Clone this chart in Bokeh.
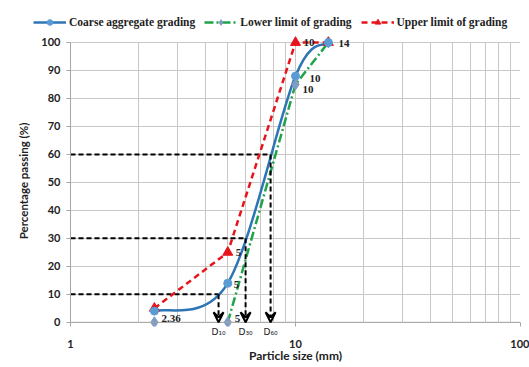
import numpy as np
from bokeh.plotting import figure
from bokeh.layouts import column
from bokeh.models import (FixedTicker, Legend, LegendItem, Arrow, VeeHead, Label,
                          LogAxis, Span, Grid)
from bokeh.embed import file_html
from bokeh.resources import INLINE

# ---- data ----
sieve_sizes = [2.36, 5, 10, 14]
coarse_grading = [4, 14, 88, 100]
lower_limit = [0, 0, 85, 100]
upper_limit = [5, 25, 100, 100]

series_names = ["Coarse aggregate grading", "Lower limit of grading", "Upper limit of grading"]

d_names = ["D\u2081\u2080", "D\u2083\u2080", "D\u2086\u2080"]
d_levels = [10, 30, 60]
d_sizes = [4.55, 6.0, 7.75]

y_ticks = list(range(0, 101, 10))
x_ticks = [1, 10, 100]
x_minor = [2, 3, 4, 5, 6, 7, 8, 9, 20, 30, 40, 50, 60, 70, 80, 90]

# point labels
pt_label_x = [10, 14, 10, 10, 5, 5, 5, 2.36]
pt_label_y = [100, 100, 88, 85, 25, 14, 0, 0]
pt_label_text = ["10", "14", "10", "10", "5", "5", "5", "2.36"]
pt_label_dx = [8, 10, 14, 7, 8, 6, 7, 7]
pt_label_dy = [0, -1, -2, -5, 0, -1, 4, 4]

FW = 450
PX_PER_PCT = 2.8
Y0, Y1 = -1.5, 102.5
FH = int(round((Y1 - Y0) * PX_PER_PCT))

BLUE = "#2e75b6"
GREEN = "#1fa34a"
RED = "#e8141c"
DIAM = "#7f9cc4"
CIRC = "#5b9bd5"
AX = "#a6a6a6"
TXT = "#222222"

p = figure(width=529, height=5 + FH + 41, x_axis_type="log", x_axis_location=None,
           y_range=(Y0, Y1), x_range=(1, 100),
           output_backend="svg", toolbar_location=None,
           min_border_left=70, min_border_right=9, min_border_top=5, min_border_bottom=41)
p.background_fill_color = "white"
p.border_fill_color = "white"
p.outline_line_color = None
p.frame_align = False

# D axis (directly below frame): D labels + small ticks at 1, 10, 100
d_axis = LogAxis(ticker=FixedTicker(ticks=d_sizes, minor_ticks=x_ticks))
d_axis.major_label_overrides = {d: n for d, n in zip(d_sizes, d_names)}
d_axis.axis_line_color = None
d_axis.major_tick_line_color = None
d_axis.major_tick_in = 0
d_axis.major_tick_out = 0
d_axis.minor_tick_line_color = AX
d_axis.minor_tick_in = 4
d_axis.minor_tick_out = 0
d_axis.major_label_standoff = 0
d_axis.major_label_text_font = "DejaVu Sans"
d_axis.major_label_text_font_size = "9px"
d_axis.major_label_text_color = TXT
p.add_layout(d_axis, "below")

# main x axis (labels only)
x_axis = LogAxis(ticker=FixedTicker(ticks=x_ticks, minor_ticks=x_minor))
x_axis.major_label_overrides = {1: "1", 10: "10", 100: "100"}
x_axis.axis_line_color = None
x_axis.major_tick_line_color = None
x_axis.minor_tick_line_color = None
x_axis.major_tick_in = 0
x_axis.major_tick_out = 0
x_axis.major_label_standoff = -4
x_axis.major_label_text_font = "Lato"
x_axis.major_label_text_font_style = "bold"
x_axis.major_label_text_font_size = "11px"
x_axis.major_label_text_color = TXT
x_axis.axis_label = "Particle size (mm)"
x_axis.axis_label_standoff = -3
x_axis.axis_label_text_font = "Lato"
x_axis.axis_label_text_font_style = "bold"
x_axis.axis_label_text_font_size = "12px"
x_axis.axis_label_text_color = TXT
p.add_layout(x_axis, "below")

# y axis
p.yaxis.ticker = FixedTicker(ticks=y_ticks)
p.yaxis.bounds = (0, 100)
p.yaxis.axis_line_color = AX
p.yaxis.major_tick_line_color = AX
p.yaxis.minor_tick_line_color = None
p.yaxis.major_tick_in = 0
p.yaxis.major_tick_out = 4
p.yaxis.major_label_standoff = 6
p.yaxis.major_label_text_font = "Lato"
p.yaxis.major_label_text_font_style = "bold"
p.yaxis.major_label_text_font_size = "11px"
p.yaxis.major_label_text_color = TXT
p.yaxis.axis_label = "Percentage passing (%)"
p.yaxis.axis_label_text_font = "Lato"
p.yaxis.axis_label_text_font_style = "bold"
p.yaxis.axis_label_text_font_size = "11.5px"
p.yaxis.axis_label_text_color = TXT
p.yaxis.axis_label_standoff = 8

# grids
xg = Grid(dimension=0, ticker=FixedTicker(ticks=x_ticks, minor_ticks=x_minor),
          grid_line_color="#c8c8c8", minor_grid_line_color="#c8c8c8", cross_bounds=(0, 100))
p.add_layout(xg)
p.ygrid.grid_line_color = "#c8c8c8"
p.ygrid.bounds = (1, 100)
p.add_layout(Span(location=0, dimension="width", line_color=AX, line_width=1))

# D lines
p.segment(x0=[x_ticks[0]] * 3, y0=d_levels, x1=d_sizes, y1=d_levels,
          line_color="black", line_width=2, line_dash="5 3")
for ds, lv in zip(d_sizes, d_levels):
    p.add_layout(Arrow(x_start=ds, y_start=lv, x_end=ds, y_end=0,
                       line_color="black", line_width=2, line_dash="5 3",
                       end=VeeHead(size=10, line_color="black", line_width=2, fill_color=None)))

# smoothed coarse curve (Excel-style bezier in screen space)
u = np.log10(sieve_sizes) * FW / 2
v = np.array(coarse_grading, dtype=float) * PX_PER_PCT
n = len(u)
tx = lambda uu: 10 ** (uu / (FW / 2))
ty = lambda vv: vv / PX_PER_PCT
bx0, by0, bx1, by1, cx0, cy0, cx1, cy1 = [], [], [], [], [], [], [], []
for i in range(n - 1):
    pu, pv = (u[i - 1], v[i - 1]) if i > 0 else (u[i], v[i])
    nu, nv = (u[i + 2], v[i + 2]) if i + 2 < n else (u[i + 1], v[i + 1])
    bx0.append(tx(u[i])); by0.append(ty(v[i]))
    bx1.append(tx(u[i + 1])); by1.append(ty(v[i + 1]))
    cx0.append(tx(u[i] + (u[i + 1] - pu) / 6)); cy0.append(ty(v[i] + (v[i + 1] - pv) / 6))
    cx1.append(tx(u[i + 1] - (nu - u[i]) / 6)); cy1.append(ty(v[i + 1] - (nv - v[i]) / 6))

# lower-limit line is drawn from 5 mm on (the 0 % stretch lies on the axis)
p.line(sieve_sizes[1:], lower_limit[1:], line_color=GREEN, line_width=2.5, line_dash="9 3 2 3")
p.line(sieve_sizes, upper_limit, line_color=RED, line_width=2.5, line_dash="6 4")
p.bezier(x0=bx0, y0=by0, x1=bx1, y1=by1, cx0=cx0, cy0=cy0, cx1=cx1, cy1=cy1,
         line_color=BLUE, line_width=2.5)
p.scatter(sieve_sizes, lower_limit, marker="diamond", size=11, fill_color=DIAM, line_color=DIAM)
p.scatter(sieve_sizes, upper_limit, marker="triangle", size=10, fill_color=RED, line_color=RED)
p.scatter(sieve_sizes, coarse_grading, marker="circle", size=8, fill_color=CIRC, line_color=CIRC)

for xx, yy, tt, dx, dy in zip(pt_label_x, pt_label_y, pt_label_text, pt_label_dx, pt_label_dy):
    p.add_layout(Label(x=xx, y=yy, text=tt, x_offset=dx, y_offset=dy,
                       text_font="Liberation Serif", text_font_style="bold",
                       text_font_size="11px", text_color=TXT,
                       text_baseline="middle", text_align="left"))

# ---- legend strip (separate figure on top; its series lie outside its view) ----
lg = figure(width=529, height=30, x_range=(0, 1), y_range=(0, 1),
            x_axis_location=None, y_axis_location=None,
            output_backend="svg", toolbar_location=None,
            min_border_left=0, min_border_right=0, min_border_top=0, min_border_bottom=0)
lg.frame_align = False
lg.grid.visible = False
lg.outline_line_color = None
lg.background_fill_color = "white"
lg.border_fill_color = "white"
l_co = lg.line(sieve_sizes, coarse_grading, line_color=BLUE, line_width=2.5)
m_co = lg.scatter(sieve_sizes, coarse_grading, marker="circle", size=8, fill_color=CIRC, line_color=CIRC)
l_lo = lg.line(sieve_sizes, lower_limit, line_color=GREEN, line_width=2.5, line_dash="9 3 2 3")
m_lo = lg.scatter(sieve_sizes, lower_limit, marker="diamond", size=9, fill_color=DIAM, line_color=DIAM)
l_up = lg.line(sieve_sizes, upper_limit, line_color=RED, line_width=2.5, line_dash="6 4")
m_up = lg.scatter(sieve_sizes, upper_limit, marker="triangle", size=8, fill_color=RED, line_color=RED)

legend = Legend(items=[
    LegendItem(label=series_names[0], renderers=[l_co, m_co]),
    LegendItem(label=series_names[1], renderers=[l_lo, m_lo]),
    LegendItem(label=series_names[2], renderers=[l_up, m_up]),
], orientation="horizontal", location=(33, 1))
legend.label_text_font = "Liberation Serif"
legend.label_text_font_style = "bold"
legend.label_text_font_size = "11.5px"
legend.label_text_color = TXT
legend.glyph_width = 33
legend.glyph_height = 14
legend.label_standoff = 3
legend.label_height = 14
legend.spacing = 9
legend.padding = 0
legend.margin = 0
legend.border_line_color = None
legend.background_fill_alpha = 0
lg.add_layout(legend, "center")

layout = column(lg, p, spacing=0)
open("out.html", "w").write(file_html(layout, INLINE))
